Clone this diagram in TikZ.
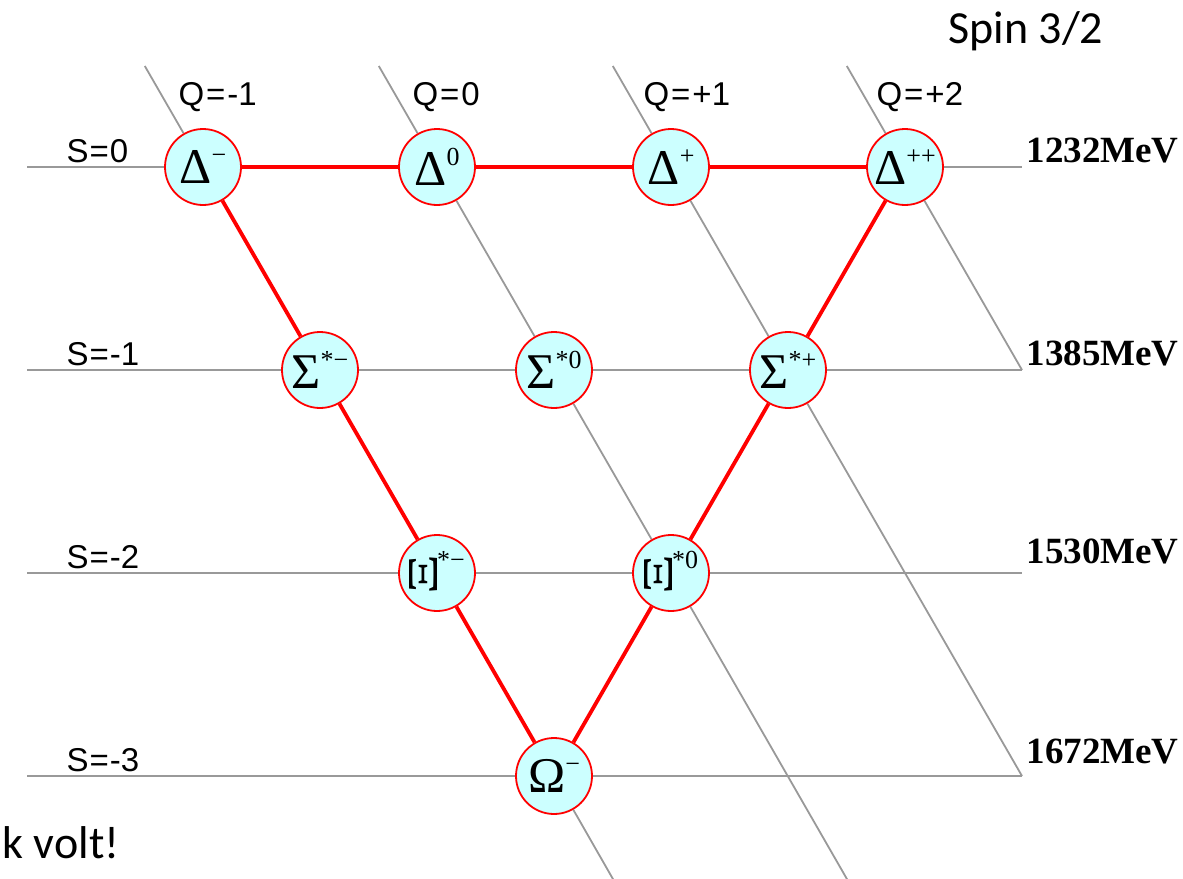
\documentclass[tikz,border=0pt]{standalone}
\usepackage{fontspec}
\setmainfont{Liberation Serif}
\newfontfamily\labfont{Liberation Sans}
\newfontfamily\calfont{Carlito}
\usetikzlibrary{backgrounds}
\definecolor{hcyan}{HTML}{CCFFFF}
\definecolor{lgray}{HTML}{999999}
\newcommand\nodefont{\fontsize{50}{50}\selectfont}
\newcommand\sups[1]{\raisebox{20pt}{\fontsize{26}{26}\selectfont #1}}
\newcommand\rxi{\raisebox{-6pt}{\resizebox{28pt}{40pt}{\rotatebox{90}{Ξ}}}}
\begin{document}
\begin{tikzpicture}[x=1pt,y=-1pt,
  hadron/.style={circle, draw=red, line width=1.8pt, fill=hcyan, minimum size=76pt, inner sep=0pt, font=\nodefont},
  gridline/.style={draw=lgray, line width=1.8pt},
  redline/.style={draw=red, line width=3.8pt},
  qlab/.style={anchor=base west, font=\fontsize{33}{33}\selectfont\labfont},
  elab/.style={anchor=base west, font=\fontsize{37}{37}\selectfont\bfseries},
  clab/.style={anchor=base west, font=\fontsize{46}{46}\selectfont\calfont}]
\path[use as bounding box] (0,0) rectangle (1183,878);
\clip (0,0) rectangle (1183,878);
% hadrons
\node[hadron] (Dm)  at (203,167) {Δ\sups{−}};
\node[hadron] (D0)  at (437,167) {Δ\sups{0}};
\node[hadron] (Dp)  at (671,167) {Δ\sups{+}};
\node[hadron] (Dpp) at (905,167) {Δ\sups{++}};
\node[hadron] (Sm)  at (320,370) {Σ\sups{*−}};
\node[hadron] (S0)  at (554,370) {Σ\sups{*0}};
\node[hadron] (Sp)  at (788,370) {Σ\sups{*+}};
\node[hadron] (Xm)  at (437,573) {\rxi\sups{*−}};
\node[hadron] (X0)  at (671,573) {\rxi\sups{*0}};
\node[hadron] (Om)  at (554,776) {Ω\sups{−}};
% line ends
\coordinate (sl0) at (27,167);  \coordinate (sr0) at (1022,167);
\coordinate (sl1) at (27,370);  \coordinate (sr1) at (1022,370);
\coordinate (sl2) at (27,573);  \coordinate (sr2) at (1022,573);
\coordinate (sl3) at (27,776);  \coordinate (sr3) at (1022,776);
\coordinate (qt1) at (144.8,66); \coordinate (qt2) at (378.8,66);
\coordinate (qt3) at (612.8,66); \coordinate (qt4) at (846.8,66);
\coordinate (qb1) at (618.1,888); \coordinate (qb2) at (852.1,888);
% labels
\node[qlab] (lq1) at (175,105) {Q\hspace{2pt}=\hspace{2pt}-1};
\node[qlab] (lq2) at (409,105) {Q\hspace{2pt}=\hspace{2pt}0};
\node[qlab] (lq3) at (640,105) {Q\hspace{2pt}=\hspace{2pt}+1};
\node[qlab] (lq4) at (873,105) {Q\hspace{2pt}=\hspace{2pt}+2};
\node[qlab] (ls0) at (63,162) {S\hspace{1pt}=\hspace{1pt}0};
\node[qlab] (ls1) at (63,365) {S\hspace{1pt}=\hspace{1pt}-1};
\node[qlab] (ls2) at (63,568) {S\hspace{1pt}=\hspace{1pt}-2};
\node[qlab] (ls3) at (63,771) {S\hspace{1pt}=\hspace{1pt}-3};
\node[elab] (e0) at (1023,162) {1232MeV};
\node[elab] (e1) at (1023,365) {1385MeV};
\node[elab] (e2) at (1023,563) {1530MeV};
\node[elab] (e3) at (1023,763) {1672MeV};
\node[clab] (spin) at (945,43) {Spin 3/2};
\node[clab] (volt) at (-1,858) {k volt!};
\begin{scope}[on background layer]
  \draw[gridline] (sl0) -- (Dm);
  \draw[gridline] (Dpp) -- (sr0);
  \draw[gridline] (sl1) -- (Sm) -- (S0) -- (Sp) -- (sr1);
  \draw[gridline] (sl2) -- (Xm) -- (X0) -- (sr2);
  \draw[gridline] (sl3) -- (Om) -- (sr3);
  \draw[gridline] (qt1) -- (Dm);
  \draw[gridline] (Om) -- (qb1);
  \draw[gridline] (qt2) -- (D0) -- (S0) -- (X0) -- (qb2);
  \draw[gridline] (qt3) -- (Dp) -- (Sp) -- (sr3);
  \draw[gridline] (qt4) -- (Dpp) -- (sr1);
  \draw[redline] (Dm) -- (D0) -- (Dp) -- (Dpp);
  \draw[redline] (Dm) -- (Sm) -- (Xm) -- (Om);
  \draw[redline] (Dpp) -- (Sp) -- (X0) -- (Om);
\end{scope}
\end{tikzpicture}
\end{document}
